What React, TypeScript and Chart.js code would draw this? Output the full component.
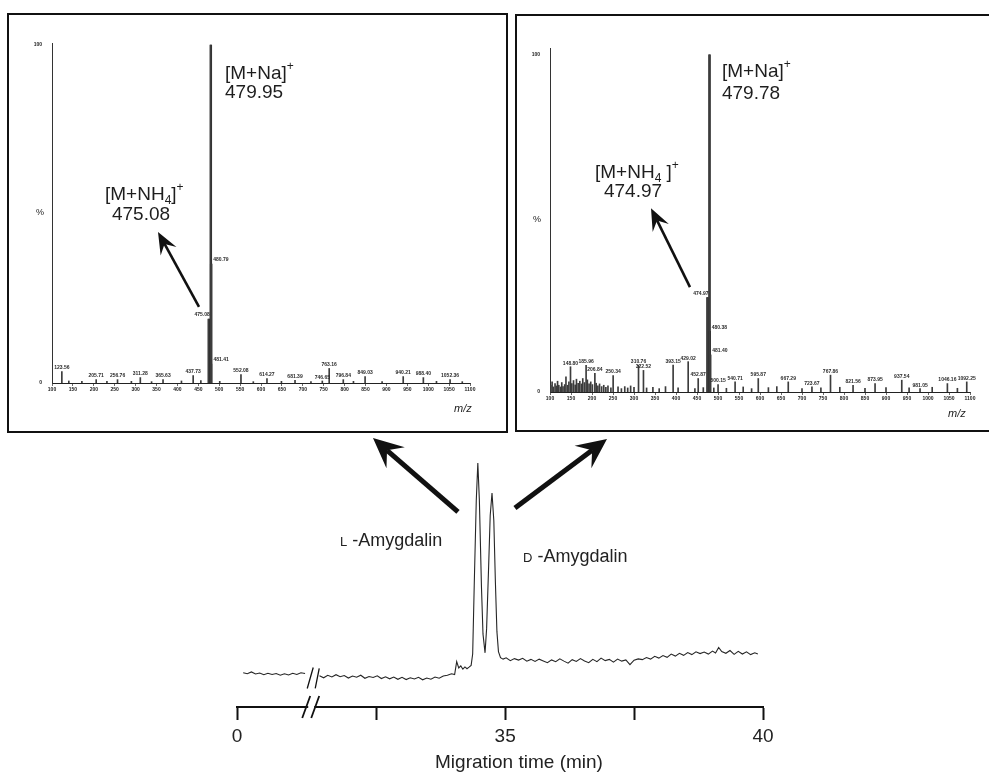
import React, { useEffect, useRef } from 'react';
import { Chart, registerables } from 'chart.js';

Chart.register(...registerables);

const FONT = "'Liberation Sans', Arial, Helvetica, sans-serif";

// ---------------- DATA ----------------
// m/z tick values shared by both mass spectra
const mzTicks = [100, 150, 200, 250, 300, 350, 400, 450, 500, 550, 600, 650, 700, 750, 800, 850, 900, 950, 1000, 1050, 1100];

// Left spectrum (L-amygdalin)
const leftBaseMz = 479.95;
const leftPeakMz = [123.56, 140.2, 171.5, 205.71, 231.4, 256.76, 289.9, 311.28, 338.2, 365.63, 409.7, 437.73, 456.1, 475.08, 479.95, 480.79, 481.41, 501.3, 552.08, 581.6, 614.27, 648.9, 681.39, 719.5, 746.65, 763.16, 796.84, 821.2, 849.03, 889.7, 940.21, 988.4, 1019.8, 1052.36, 1081.5];
const leftPeakPct = [3.4, 0.6, 0.5, 1.0, 0.5, 1.0, 0.5, 1.6, 0.4, 1.0, 0.6, 2.2, 0.7, 18.9, 100, 35.2, 5.6, 0.5, 2.5, 0.4, 1.3, 0.5, 0.8, 0.4, 0.6, 4.3, 1.0, 0.5, 1.9, 0.4, 1.9, 1.6, 0.5, 1.0, 0.4];
const leftPeakLabel = ['123.56', '', '', '205.71', '', '256.76', '', '311.28', '', '365.63', '', '437.73', '', '475.08', '', '480.79', '481.41', '', '552.08', '', '614.27', '', '681.39', '', '746.65', '763.16', '796.84', '', '849.03', '', '940.21', '988.40', '', '1052.36', ''];

// Right spectrum (D-amygdalin)
const rightBaseMz = 479.78;
const rightPeakMz = [102, 105, 108, 112, 115, 118, 121, 125, 128, 131, 135, 138, 142, 145, 148.8, 152, 156, 160, 163, 167, 171, 175, 178, 182, 185.96, 189, 193, 197, 201, 206.84, 210, 214, 218, 223, 228, 233, 238, 245, 250.34, 262, 270, 278, 285, 292, 300, 310.76, 322.52, 330, 345, 360, 375, 393.15, 405, 429.02, 445, 452.87, 465, 474.97, 479.78, 480.38, 481.4, 490, 500.15, 520, 540.71, 560, 580, 595.87, 620, 640, 667.29, 700, 723.67, 745, 767.86, 790, 821.56, 850, 873.95, 900, 937.54, 955, 981.05, 1010, 1046.16, 1070, 1092.25];
const rightPeakPct = [2, 3, 1.5, 2.5, 1.8, 3.2, 2, 1.5, 2.8, 1.6, 2.2, 4.5, 2, 3, 7.5, 2.5, 3.4, 2.1, 3.8, 2.6, 3.2, 2.4, 4, 2.8, 7.9, 3.6, 2.4, 3, 2.2, 5.5, 2.6, 1.8, 2.4, 1.6, 2, 1.4, 1.8, 1.2, 4.9, 1.5, 1, 1.6, 1.2, 1.8, 1.4, 7.9, 6.4, 1.2, 1.4, 1, 1.6, 8, 1.2, 9, 1, 4, 1.3, 28, 100, 18, 11, 1.2, 2.2, 1.1, 3, 1.5, 1, 4, 1.3, 1.6, 3, 1, 1.5, 1.2, 5, 1.4, 2, 1.1, 2.5, 1.3, 3.5, 1.2, 1, 1.4, 2.5, 1.1, 3];
const rightPeakLabel = ['', '', '', '', '', '', '', '', '', '', '', '', '', '', '148.80', '', '', '', '', '', '', '', '', '', '185.96', '', '', '', '', '206.84', '', '', '', '', '', '', '', '', '250.34', '', '', '', '', '', '', '310.76', '322.52', '', '', '', '', '393.15', '', '429.02', '', '452.87', '', '474.97', '', '480.38', '481.40', '', '500.15', '', '540.71', '', '', '595.87', '', '', '667.29', '', '723.67', '', '767.86', '', '821.56', '', '873.95', '', '937.54', '', '981.05', '', '1046.16', '', '1092.25'];

// Electropherogram (migration time axis shown with a break; null = break)
const traceTime = [
  29.92, 30.0, 30.08, 30.16, 30.24, 30.32, 30.4, 30.48, 30.56, 30.64, 30.72, 30.8, 30.88, 30.96, 31.04, 31.12,
  31.2,
  31.4, 31.48, 31.56, 31.64, 31.72, 31.8, 31.88, 31.96, 32.04, 32.12, 32.2, 32.28, 32.36, 32.44, 32.52, 32.6, 32.68, 32.76, 32.84, 32.92,
  33.0, 33.08, 33.16, 33.24, 33.32, 33.4, 33.48, 33.56, 33.64, 33.72, 33.8, 33.88, 33.96, 34.02, 34.06, 34.1, 34.14, 34.18, 34.22, 34.26,
  34.3, 34.34, 34.37, 34.4, 34.44, 34.47, 34.5, 34.54, 34.57, 34.61, 34.64, 34.68, 34.71, 34.745, 34.78, 34.81, 34.84, 34.87, 34.91, 34.96, 35.02,
  35.1, 35.18, 35.26, 35.34, 35.42, 35.5, 35.58, 35.66, 35.74, 35.82, 35.9, 35.98, 36.06, 36.14, 36.22, 36.3, 36.38, 36.46, 36.54, 36.62,
  36.7, 36.78, 36.86, 36.94, 37.02, 37.1, 37.18, 37.26, 37.34, 37.42, 37.5, 37.58, 37.66, 37.74, 37.82, 37.9, 37.98, 38.06, 38.14, 38.22,
  38.3, 38.38, 38.46, 38.54, 38.62, 38.7, 38.78, 38.86, 38.94, 39.02, 39.08, 39.14, 39.2, 39.28, 39.36, 39.44, 39.52, 39.6, 39.68, 39.76, 39.84, 39.9
];
const traceSignal = [
  13.6, 13.2, 13.9, 13.1, 13.5, 12.8, 13.4, 12.9, 13.3, 12.6, 13.2, 12.7, 13.4, 12.9, 13.6, 13.3,
  null,
  12.4, 11.6, 12.6, 11.9, 12.8, 12.0, 12.5, 11.5, 12.3, 11.8, 12.6, 11.4, 12.1, 11.7, 12.4, 11.3, 12.0, 11.2, 11.9, 11.0,
  11.8, 10.9, 11.6, 11.1, 11.8, 10.8, 11.5, 11.0, 11.9, 11.4, 12.3, 12.6, 13.2, 12.9, 18.0, 15.5, 16.3, 15.0, 15.9, 15.2,
  15.8, 16.5, 21, 48, 82, 96.8, 82, 48, 29, 21.5, 31, 56, 76, 84.9, 74, 50, 30, 22, 19.6, 19.0, 19.5,
  18.4, 19.2, 18.6, 19.3, 18.2, 18.9, 18.1, 19.0, 18.3, 17.6, 18.7, 18.0, 19.1, 18.2, 17.4, 18.8, 18.1, 19.2, 18.3, 17.6,
  18.9, 18.0, 19.4, 18.4, 18.9, 17.8, 19.0, 18.2, 18.7, 16.8, 18.6, 19.1, 18.8, 19.6, 19.0, 20.1, 19.4, 20.4, 19.7, 21.0,
  20.2, 21.3, 20.5, 21.6, 20.8, 21.9, 21.2, 21.8, 21.0, 22.2, 21.4, 23.6, 22.0, 21.3, 22.4, 20.9, 22.1, 21.0, 21.9, 20.8, 21.5, 21.0
];
const timeTickValues = [29.8, 32.5, 35, 37.5, 40];
const timeTickLabels = ['0', '', '35', '', '40'];

// ---------------- HELPERS ----------------
type Part = { t: string; k?: 'sub' | 'sup' };

function drawRich(ctx: CanvasRenderingContext2D, parts: Part[], x: number, yMid: number, size: number, align: 'left' | 'center') {
  const main = `${size}px ${FONT}`;
  const small = `${Math.round(size * 0.62)}px ${FONT}`;
  let w = 0;
  parts.forEach((p) => { ctx.font = p.k ? small : main; w += ctx.measureText(p.t).width; });
  let cx = align === 'center' ? x - w / 2 : x;
  const base = yMid + size * 0.36;
  ctx.textAlign = 'left';
  ctx.textBaseline = 'alphabetic';
  parts.forEach((p) => {
    ctx.font = p.k ? small : main;
    const dy = p.k === 'sup' ? -size * 0.45 : p.k === 'sub' ? size * 0.22 : 0;
    ctx.fillText(p.t, cx, base + dy);
    cx += ctx.measureText(p.t).width;
  });
}

function drawArrow(ctx: CanvasRenderingContext2D, x1: number, y1: number, x2: number, y2: number, lw: number, hl: number, hw: number) {
  const a = Math.atan2(y2 - y1, x2 - x1);
  const ux = Math.cos(a), uy = Math.sin(a);
  const px = -uy, py = ux;
  const bx = x2 - ux * hl, by = y2 - uy * hl;
  const nx = x2 - ux * hl * 0.62, ny = y2 - uy * hl * 0.62;
  ctx.beginPath();
  ctx.moveTo(x1, y1);
  ctx.lineTo(nx, ny);
  ctx.lineWidth = lw;
  ctx.lineCap = 'butt';
  ctx.stroke();
  ctx.beginPath();
  ctx.moveTo(x2, y2);
  ctx.lineTo(bx + px * hw / 2, by + py * hw / 2);
  ctx.lineTo(nx, ny);
  ctx.lineTo(bx - px * hw / 2, by - py * hw / 2);
  ctx.closePath();
  ctx.fill();
}

// ---------------- SPECTRUM CONFIG ----------------
const leftSpec = {
  box: { left: 7, top: 13, width: 501, height: 420 },
  area: { l: 45, r: 463, t: 30, b: 370 },
  yMax: 100.6,
  frame: ['top', 'left', 'right', 'bottom'],
  mz: leftPeakMz, pct: leftPeakPct, labels: leftPeakLabel, baseMz: leftBaseMz,
  na: { mz: 513.9, pcts: [92.0, 86.4], value: '479.95' },
  nh4: { leftMz: 226.8, centerMz: 312.9, pcts: [56.2, 50.3], value: '475.08', gap: '' },
  arrow: { from: [451.7, 22.5], to: [353.6, 44.7] },
  percentAt: [71.3, 50.3],
  mzAt: [1083, -7.7],
};

const rightSpec = {
  box: { left: 515, top: 14, width: 474, height: 418 },
  area: { l: 35, r: 455, t: 34, b: 378 },
  yMax: 102,
  frame: ['top', 'left', 'bottom'],
  mz: rightPeakMz, pct: rightPeakPct, labels: rightPeakLabel, baseMz: rightBaseMz,
  na: { mz: 509.5, pcts: [95.5, 88.9], value: '479.78' },
  nh4: { leftMz: 207.1, centerMz: 297.6, pcts: [65.5, 59.9], value: '474.97', gap: ' ' },
  arrow: { from: [433.3, 31.1], to: [340.5, 54.5] },
  percentAt: [69, 51],
  mzAt: [1069, -6.5],
};

function makeSpectrum(s: any) {
  const all = s.mz.map((m: number, i: number) => ({ x: m, y: s.pct[i] }));
  const major = all.filter((p: any) => p.y >= 10);
  const plugin = {
    id: 'specAnno',
    afterDraw(chart: any) {
      const ctx: CanvasRenderingContext2D = chart.ctx;
      const xs = chart.scales.x, ys = chart.scales.y;
      const X = (v: number) => xs.getPixelForValue(v);
      const Y = (v: number) => ys.getPixelForValue(v);
      const W = chart.width, H = chart.height;
      ctx.save();
      // frame
      ctx.strokeStyle = '#111';
      ctx.lineWidth = 2;
      ctx.beginPath();
      if (s.frame.includes('top')) { ctx.moveTo(0, 1); ctx.lineTo(W, 1); }
      if (s.frame.includes('bottom')) { ctx.moveTo(0, H - 1); ctx.lineTo(W, H - 1); }
      if (s.frame.includes('left')) { ctx.moveTo(1, 0); ctx.lineTo(1, H); }
      if (s.frame.includes('right')) { ctx.moveTo(W - 1, 0); ctx.lineTo(W - 1, H); }
      ctx.stroke();
      // peak labels
      const meta = chart.getDatasetMeta(0);
      ctx.fillStyle = '#2a2a2a';
      ctx.font = `bold 5px ${FONT}`;
      s.labels.forEach((lab: string, i: number) => {
        if (!lab) return;
        const el = meta.data[i];
        const m = s.mz[i];
        if (Math.abs(m - s.baseMz) < 8) {
          ctx.textBaseline = 'middle';
          if (m < s.baseMz) { ctx.textAlign = 'right'; ctx.fillText(lab, el.x + 1, el.y - 4); }
          else { ctx.textAlign = 'left'; ctx.fillText(lab, el.x + 2, el.y - 4); }
        } else {
          ctx.textAlign = 'center';
          ctx.textBaseline = 'bottom';
          ctx.fillText(lab, el.x, el.y - 1);
        }
      });
      // axis texts
      ctx.fillStyle = '#222';
      ctx.font = `9px ${FONT}`;
      ctx.textAlign = 'center';
      ctx.textBaseline = 'middle';
      ctx.fillText('%', X(s.percentAt[0]), Y(s.percentAt[1]));
      ctx.font = `italic 11px ${FONT}`;
      ctx.fillText('m/z', X(s.mzAt[0]), Y(s.mzAt[1]));
      // ion annotations
      ctx.fillStyle = '#1e1e1e';
      drawRich(ctx, [{ t: '[M+Na]' }, { t: '+', k: 'sup' }], X(s.na.mz), Y(s.na.pcts[0]), 19, 'left');
      drawRich(ctx, [{ t: s.na.value }], X(s.na.mz), Y(s.na.pcts[1]), 19, 'left');
      drawRich(ctx, [{ t: '[M+NH' }, { t: '4', k: 'sub' }, { t: s.nh4.gap + ']' }, { t: '+', k: 'sup' }], X(s.nh4.leftMz), Y(s.nh4.pcts[0]), 19, 'left');
      drawRich(ctx, [{ t: s.nh4.value }], X(s.nh4.centerMz), Y(s.nh4.pcts[1]), 19, 'center');
      // arrow
      ctx.strokeStyle = '#111';
      ctx.fillStyle = '#111';
      drawArrow(ctx, X(s.arrow.from[0]), Y(s.arrow.from[1]), X(s.arrow.to[0]), Y(s.arrow.to[1]), 2.6, 22, 18);
      ctx.restore();
    },
  };
  return {
    type: 'bar',
    data: {
      datasets: [
        { data: all, backgroundColor: '#3c3c3c', barThickness: 1, grouped: false, borderWidth: 0 },
        { data: major, backgroundColor: '#262626', barThickness: 1.8, grouped: false, borderWidth: 0 },
      ],
    },
    options: {
      animation: false,
      responsive: false,
      events: [],
      layout: { padding: { left: 0, top: s.area.t, right: s.box.width - s.area.r, bottom: 0 } },
      plugins: { legend: { display: false }, tooltip: { enabled: false } },
      scales: {
        x: {
          type: 'linear', min: 100, max: 1100, offset: false,
          afterBuildTicks: (sc: any) => { sc.ticks = mzTicks.map((v) => ({ value: v })); },
          afterFit: (sc: any) => { sc.height = s.box.height - s.area.b; },
          ticks: { autoSkip: false, maxRotation: 0, padding: 1, color: '#222', font: { size: 5, weight: 'bold', family: FONT }, callback: (v: any) => String(v) },
          grid: { display: true, offset: false, drawOnChartArea: false, drawTicks: true, tickLength: 3, color: '#444', lineWidth: 0.8 },
          border: { display: true, color: '#222', width: 1 },
        },
        y: {
          min: 0, max: s.yMax,
          afterBuildTicks: (sc: any) => { sc.ticks = [{ value: 0 }, { value: 100 }]; },
          afterFit: (sc: any) => { sc.width = s.area.l; },
          ticks: { padding: 2, color: '#222', font: { size: 5, weight: 'bold', family: FONT }, callback: (v: any) => String(v) },
          grid: { display: false },
          border: { display: true, color: '#333', width: 1 },
        },
      },
    },
    plugins: [plugin],
  };
}

// ---------------- ELECTROPHEROGRAM CONFIG ----------------
const chromSpec = {
  box: { left: 0, top: 434, width: 989, height: 342 },
  area: { l: 237, r: 763, t: 21, b: 273 },
  breakTime: 31.22,
  leftArrow: { from: [34.085, 77.4], to: [32.437, 106.7] },
  rightArrow: { from: [35.19, 79.0], to: [36.975, 106.3] },
  lLabel: [31.797, 66.3],
  dLabel: [35.346, 60.3],
  titleAt: 35.268,
};

function makeChrom(s: any) {
  const plugin = {
    id: 'chromAnno',
    afterDraw(chart: any) {
      const ctx: CanvasRenderingContext2D = chart.ctx;
      const xs = chart.scales.x, ys = chart.scales.y;
      const X = (v: number) => xs.getPixelForValue(v);
      const Y = (v: number) => ys.getPixelForValue(v);
      const ca = chart.chartArea;
      ctx.save();
      // axis break
      const x0 = X(s.breakTime);
      const ay = ca.bottom;
      ctx.fillStyle = '#fff';
      ctx.fillRect(x0 - 2, ay - 3, 6, 6);
      ctx.strokeStyle = '#111';
      ctx.lineWidth = 1.8;
      ctx.beginPath();
      ctx.moveTo(x0 - 8, ay + 11); ctx.lineTo(x0, ay - 11);
      ctx.moveTo(x0 + 1, ay + 11); ctx.lineTo(x0 + 9, ay - 11);
      ctx.stroke();
      // trace break
      const idx = traceSignal.indexOf(null as any);
      const ty = Y(traceSignal[idx - 1] as number);
      ctx.lineWidth = 1.3;
      ctx.beginPath();
      ctx.moveTo(x0 - 3, ty + 15); ctx.lineTo(x0 + 3, ty - 6);
      ctx.moveTo(x0 + 5, ty + 15); ctx.lineTo(x0 + 9, ty - 5);
      ctx.stroke();
      // big arrows
      ctx.fillStyle = '#111';
      drawArrow(ctx, X(s.leftArrow.from[0]), Y(s.leftArrow.from[1]), X(s.leftArrow.to[0]), Y(s.leftArrow.to[1]), 5, 30, 28);
      drawArrow(ctx, X(s.rightArrow.from[0]), Y(s.rightArrow.from[1]), X(s.rightArrow.to[0]), Y(s.rightArrow.to[1]), 5, 30, 28);
      // labels
      ctx.fillStyle = '#222';
      ctx.textAlign = 'left';
      ctx.textBaseline = 'alphabetic';
      const drawName = (cap: string, rest: string, t: number, v: number) => {
        const x = X(t), y = Y(v) + 6.5;
        ctx.font = `13px ${FONT}`;
        ctx.fillText(cap, x, y);
        const w = ctx.measureText(cap).width;
        ctx.font = `18px ${FONT}`;
        ctx.fillText(rest, x + w, y);
      };
      drawName('L', ' -Amygdalin', s.lLabel[0], s.lLabel[1]);
      drawName('D', ' -Amygdalin', s.dLabel[0], s.dLabel[1]);
      // axis title
      ctx.font = `19px ${FONT}`;
      ctx.textAlign = 'center';
      ctx.textBaseline = 'middle';
      ctx.fillText('Migration time (min)', X(s.titleAt), ca.bottom + 56);
      ctx.restore();
    },
  };
  return {
    type: 'line',
    data: {
      datasets: [{
        data: traceTime.map((t, i) => ({ x: t, y: traceSignal[i] })),
        borderColor: '#262626', borderWidth: 1.1, pointRadius: 0, spanGaps: false, tension: 0, fill: false,
      }],
    },
    options: {
      animation: false,
      responsive: false,
      events: [],
      layout: { padding: { left: s.area.l, top: s.area.t, right: s.box.width - s.area.r, bottom: 0 } },
      plugins: { legend: { display: false }, tooltip: { enabled: false } },
      scales: {
        x: {
          type: 'linear', min: 29.8, max: 40,
          afterBuildTicks: (sc: any) => { sc.ticks = timeTickValues.map((v) => ({ value: v })); },
          afterFit: (sc: any) => { sc.height = s.box.height - s.area.b; },
          ticks: { autoSkip: false, maxRotation: 0, padding: 5, color: '#222', font: { size: 19, family: FONT }, callback: (_v: any, i: number) => timeTickLabels[i] },
          grid: { display: true, drawOnChartArea: false, drawTicks: true, tickLength: 13, tickWidth: 2, color: '#111' },
          border: { display: true, width: 2, color: '#111' },
        },
        y: { display: false, min: 0, max: 100 },
      },
    },
    plugins: [plugin],
  };
}

function ChartCanvas({ box, make }: any) {
  const ref = useRef<HTMLCanvasElement>(null);
  useEffect(() => {
    const chart = new Chart(ref.current as HTMLCanvasElement, make() as any);
    return () => chart.destroy();
  }, []);
  return (
    <canvas
      ref={ref}
      width={box.width}
      height={box.height}
      style={{ position: 'absolute', left: box.left, top: box.top, width: box.width, height: box.height }}
    />
  );
}

export default function App() {
  return (
    <div style={{ position: 'absolute', left: 0, top: 0, width: 989, height: 776, background: '#fff', overflow: 'hidden' }}>
      <ChartCanvas box={leftSpec.box} make={() => makeSpectrum(leftSpec)} />
      <ChartCanvas box={rightSpec.box} make={() => makeSpectrum(rightSpec)} />
      <ChartCanvas box={chromSpec.box} make={() => makeChrom(chromSpec)} />
    </div>
  );
}
